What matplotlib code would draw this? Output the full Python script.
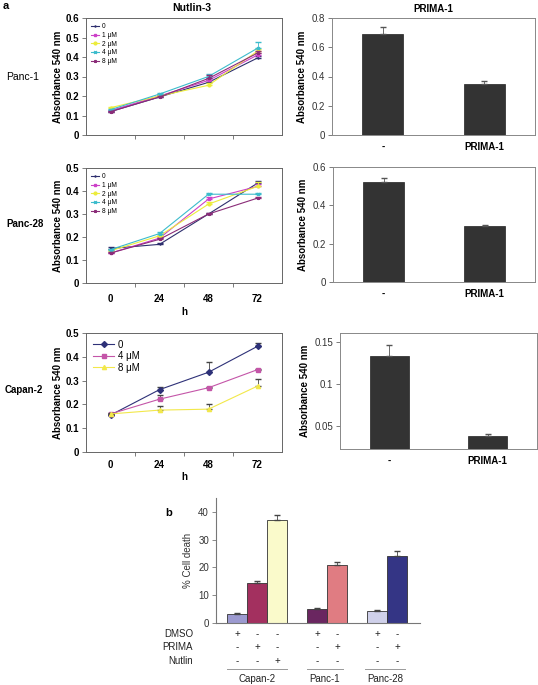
import numpy as np
import matplotlib
matplotlib.use("Agg")
import matplotlib.pyplot as plt

plt.rcParams['font.family'] = ['Liberation Sans', 'DejaVu Sans']

W, H = 538, 685

hours = ['0', '24', '48', '72']

# Panel a - Nutlin-3 time courses
panc1_labels = ['0', '1 μM', '2 μM', '4 μM', '8 μM']
panc1_vals = [[0.12, 0.195, 0.27, 0.395],
              [0.125, 0.20, 0.28, 0.41],
              [0.14, 0.20, 0.255, 0.43],
              [0.13, 0.21, 0.30, 0.445],
              [0.12, 0.195, 0.29, 0.42]]
panc1_err = [[0.005, 0.005, 0.01, 0.01],
             [0.005, 0.005, 0.01, 0.01],
             [0.005, 0.005, 0.01, 0.01],
             [0.005, 0.005, 0.015, 0.03],
             [0.005, 0.005, 0.02, 0.01]]

panc28_labels = ['0', '1 μM', '2 μM', '4 μM', '8 μM']
panc28_vals = [[0.15, 0.168, 0.30, 0.434],
               [0.13, 0.195, 0.365, 0.42],
               [0.14, 0.205, 0.343, 0.42],
               [0.145, 0.215, 0.386, 0.386],
               [0.13, 0.19, 0.30, 0.369]]
panc28_err = [[0.005, 0.005, 0.005, 0.008],
              [0.005, 0.005, 0.01, 0.01],
              [0.005, 0.005, 0.01, 0.02],
              [0.005, 0.005, 0.005, 0.005],
              [0.005, 0.005, 0.005, 0.005]]

capan2_labels = ['0', '4 μM', '8 μM']
capan2_vals = [[0.155, 0.262, 0.335, 0.444],
               [0.16, 0.222, 0.27, 0.346],
               [0.16, 0.176, 0.18, 0.277]]
capan2_err = [[0.005, 0.01, 0.042, 0.015],
              [0.005, 0.018, 0.005, 0.004],
              [0.005, 0.016, 0.023, 0.03]]

# Panel a - PRIMA-1 bars
prima_cats = ['-', 'PRIMA-1']
prima_panc1 = [0.69, 0.35]
prima_panc1_err = [0.05, 0.018]
prima_panc28 = [0.522, 0.294]
prima_panc28_err = [0.02, 0.002]
prima_capan2 = [0.133, 0.037]
prima_capan2_err = [0.014, 0.003]

# Panel b - cell death
death_pos = [1, 2, 3, 5, 6, 8, 9]
death_vals = [3.4, 14.4, 37.0, 5.0, 21.0, 4.4, 24.0]
death_err = [0.3, 0.7, 2.0, 0.4, 1.0, 0.4, 1.8]
death_colors = ['#9c9ad0', '#a3305f', '#fafacb', '#6a2660', '#e07c82', '#cfd0ea', '#343585']
row_names = ['DMSO', 'PRIMA', 'Nutlin']
row_signs = [['+', '-', '-', '+', '-', '+', '-'],
             ['-', '+', '-', '-', '+', '-', '+'],
             ['-', '-', '+', '-', '-', '-', '-']]
groups = ['Capan-2', 'Panc-1', 'Panc-28']
group_span = [(0.5, 3.5), (4.5, 6.3), (7.4, 9.4)]

fig = plt.figure(figsize=(W / 100, H / 100), dpi=100)


def px_axes(l, t, r, b):
    return fig.add_axes([l / W, 1 - b / H, (r - l) / W, (b - t) / H])


def fig_text(x, y, s, **kw):
    fig.text(x / W, 1 - y / H, s, **kw)


line_colors5 = ['#2e2f6e', '#cc40c8', '#ecec3c', '#3cbccc', '#8a2c78']
frame_col = '#666666'


def line_panel(ax, vals, errs, labels, colors, ylim, yticks, xlab, big=False):
    x = np.arange(len(hours))
    markers = ['D', 's', '^'] if big else ['+', 's', 'o', 'x', '*']
    for i, (v, e) in enumerate(zip(vals, errs)):
        ax.errorbar(x, v, yerr=[np.zeros(len(e)), e], fmt='none',
                    ecolor=colors[i] if not big else '#444444',
                    elinewidth=0.6, capsize=2)
        ax.plot(x, v, color=colors[i], marker=markers[i],
                ms=3 if big else 2, lw=0.8, label=labels[i])
    ax.set_xlim(-0.5, 3.5)
    ax.set_ylim(*ylim)
    ax.set_yticks(yticks)
    ax.set_yticklabels([('%g' % t) for t in yticks], fontsize=7, fontweight='bold')
    ax.set_xticks(x)
    ax.set_xticks([0.5, 1.5, 2.5], minor=True)
    ax.tick_params(axis='x', which='major', length=0, pad=8)
    ax.tick_params(axis='x', which='minor', length=3, width=0.6, color=frame_col)
    ax.tick_params(axis='y', length=3, width=0.6, color=frame_col, pad=2)
    if xlab:
        ax.set_xticklabels(hours, fontsize=7, fontweight='bold')
    else:
        ax.set_xticklabels([])
    for s in ax.spines.values():
        s.set_color(frame_col)
        s.set_linewidth(0.7)
    ax.set_ylabel('Absorbance 540 nm', fontsize=7, fontweight='bold', labelpad=2)
    if big:
        ax.legend(loc='upper left', fontsize=7, frameon=False, handlelength=2.2,
                  labelspacing=0.15, borderaxespad=0.3, handletextpad=0.4)
    else:
        ax.legend(loc='upper left', fontsize=4.8, frameon=False, handlelength=1.2,
                  labelspacing=0.25, borderaxespad=0.4, handletextpad=0.4)


def bar_panel(ax, vals, errs, ylim, yticks):
    x = np.arange(len(prima_cats))
    ax.bar(x, vals, width=0.4, color='#333333', edgecolor='#222222', lw=0.5)
    ax.errorbar(x, vals, yerr=[np.zeros(len(errs)), errs], fmt='none',
                ecolor='#555555', elinewidth=0.6, capsize=2)
    ax.set_xlim(-0.5, 1.5)
    ax.set_ylim(*ylim)
    ax.set_yticks(yticks)
    ax.set_yticklabels([('%g' % t) for t in yticks], fontsize=7, color='#333333')
    ax.set_xticks(x)
    ax.set_xticklabels(prima_cats, fontsize=7, fontweight='bold')
    ax.tick_params(axis='x', length=0, pad=5)
    ax.tick_params(axis='y', length=3, width=0.6, color=frame_col, pad=2)
    for s in ax.spines.values():
        s.set_color('#888888')
        s.set_linewidth(0.7)
    ax.set_ylabel('Absorbance 540 nm', fontsize=7, fontweight='bold', labelpad=3)


ax1 = px_axes(86, 18, 282, 135)
line_panel(ax1, panc1_vals, panc1_err, panc1_labels, line_colors5,
           (0, 0.6), [0, 0.1, 0.2, 0.3, 0.4, 0.5, 0.6], False)
ax2 = px_axes(86, 168, 282, 283)
line_panel(ax2, panc28_vals, panc28_err, panc28_labels, line_colors5,
           (0, 0.5), [0, 0.1, 0.2, 0.3, 0.4, 0.5], True)
ax3 = px_axes(86, 333, 282, 452)
line_panel(ax3, capan2_vals, capan2_err, capan2_labels,
           ['#2e3178', '#c455a8', '#f2e84a'],
           (0, 0.5), [0, 0.1, 0.2, 0.3, 0.4, 0.5], True, big=True)
ax3.tick_params(axis='x', which='major', pad=6)
ax2.set_xlabel('h', fontsize=7, fontweight='bold', labelpad=2)
ax3.set_xlabel('h', fontsize=7, fontweight='bold', labelpad=1)

bx1 = px_axes(332, 18, 535, 135)
bar_panel(bx1, prima_panc1, prima_panc1_err, (0, 0.8), [0, 0.2, 0.4, 0.6, 0.8])
bx2 = px_axes(333, 167, 535, 282)
bar_panel(bx2, prima_panc28, prima_panc28_err, (0, 0.6), [0, 0.2, 0.4, 0.6])
bx3 = px_axes(340, 333, 537, 449)
bar_panel(bx3, prima_capan2, prima_capan2_err, (0.022, 0.161), [0.05, 0.1, 0.15])

fig_text(3, 6, 'a', fontsize=8, fontweight='bold', va='center')
fig_text(192, 8, 'Nutlin-3', fontsize=7.5, fontweight='bold', ha='center', va='center')
fig_text(433, 9, 'PRIMA-1', fontsize=7, fontweight='bold', ha='center', va='center')
fig_text(23, 77, 'Panc-1', fontsize=7.5, ha='center', va='center')
fig_text(25, 224, 'Panc-28', fontsize=7, fontweight='bold', ha='center', va='center')
fig_text(24, 390, 'Capan-2', fontsize=7, fontweight='bold', ha='center', va='center')

# Panel b
cx = px_axes(216, 498, 420, 623)
cx.bar(death_pos, death_vals, width=1.0, color=death_colors, edgecolor='#333333', lw=0.6)
cx.errorbar(death_pos, death_vals, yerr=[np.zeros(len(death_err)), death_err],
            fmt='none', ecolor='#444444', elinewidth=0.6, capsize=2)
cx.set_xlim(-0.05, 10.15)
cx.set_ylim(0, 45)
cx.set_yticks([0, 10, 20, 30, 40])
cx.set_yticklabels(['0', '10', '20', '30', '40'], fontsize=7, color='#333333')
cx.set_xticks([])
cx.tick_params(axis='y', length=3, width=0.6, color='#777777', pad=2)
for side in ['top', 'right']:
    cx.spines[side].set_visible(False)
for side in ['left', 'bottom']:
    cx.spines[side].set_color('#777777')
    cx.spines[side].set_linewidth(0.8)
cx.set_ylabel('% Cell death', fontsize=7, color='#333333', labelpad=4)

tr = cx.get_xaxis_transform()
row_y = [-11 / 125, -24 / 125, -38 / 125]
for name, signs, y in zip(row_names, row_signs, row_y):
    cx.text(-1.2, y, name, transform=tr, fontsize=7, ha='right', va='center',
            color='#222222')
    for p, s in zip(death_pos, signs):
        cx.text(p, y, s, transform=tr, fontsize=7, ha='center', va='center',
                color='#222222')
for g, (a, b) in zip(groups, group_span):
    cx.plot([a, b], [-46 / 125, -46 / 125], transform=tr, color='#999999',
            lw=0.7, clip_on=False)
    cx.text((a + b) / 2, -56 / 125, g, transform=tr, fontsize=7, ha='center',
            va='center', color='#222222')

fig_text(165, 513, 'b', fontsize=8, fontweight='bold', va='center')

fig.savefig('out.png', dpi=100)
